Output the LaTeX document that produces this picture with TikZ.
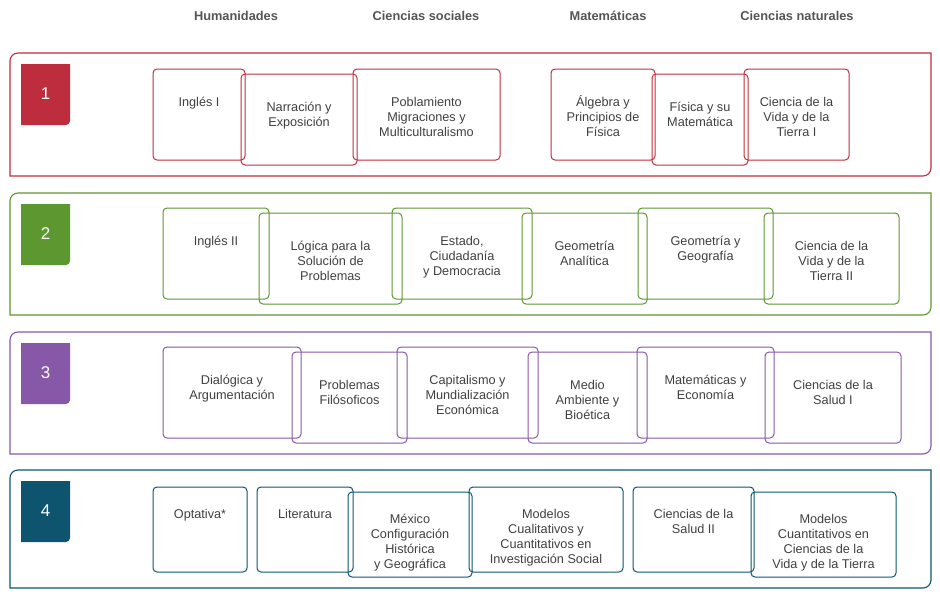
\documentclass[tikz,border=0pt]{standalone}
\usepackage{fontspec}
\setmainfont{Liberation Sans}
\usepackage{xcolor}
\usetikzlibrary{positioning,fit,calc}
\definecolor{semred}{RGB}{190,45,62}
\definecolor{semgreen}{RGB}{93,151,47}
\definecolor{sempurple}{RGB}{135,87,168}
\definecolor{semblue}{RGB}{15,84,111}
\definecolor{txtgray}{RGB}{64,64,64}
\definecolor{headgray}{RGB}{85,85,85}
\tikzset{
    course/.style={draw, rounded corners=4pt, line width=1pt, inner sep=0pt},
    coursetext/.style={align=center, text=txtgray, inner sep=0pt, font=\fontsize{12.7}{15}\selectfont},
    badgenum/.style={text=white, font=\fontsize{17}{20}\selectfont},
    header/.style={text=headgray, anchor=base, font=\bfseries\fontsize{12.8}{15}\selectfont}
}

\begin{document}
\begin{tikzpicture}[x=1pt, y=-1pt]
    \useasboundingbox (0,0) rectangle (940,597);
    % Column headers
    \node[header] (hum) at (236,20) {Humanidades};
    \node[header] (soc) at (426,20) {Ciencias sociales};
    \node[header] (mat) at (608,20) {Matemáticas};
    \node[header] (nat) at (797,20) {Ciencias naturales};
    % Semester frames and badges
    \foreach \n/\clr/\top/\bot in {1/semred/53/176, 2/semgreen/193/315, 3/sempurple/332/454, 4/semblue/470/588} {
        \draw[\clr, line width=1.1pt] (10,\bot) -- (10,\top+8) arc[start angle=180, end angle=270, radius=8]
            -- (931,\top) -- (931,\bot-8) arc[start angle=0, end angle=90, radius=8] -- cycle;
        \fill[\clr] (21,\top+11) -- (70,\top+11) -- (70,\top+68) arc[start angle=0, end angle=90, radius=4]
            -- (21,\top+72) -- cycle;
        \node[badgenum] (badge\n) at (45.5,\top+40.5) {\n};
    }
    % Semester 1
    \foreach \id/\xa/\ya/\xb/\yb/\txt in {
        r1a/153/69/245/160/{Inglés I},
        r1b/241/74/357/165/{Narración y\\Exposición},
        r1c/353/69/500/160/{Poblamiento\\Migraciones y\\Multiculturalismo},
        r1d/551/69/655/160/{Álgebra y\\Principios de\\Física},
        r1e/652/74/748/165/{Física y su\\Matemática},
        r1f/744/69/849/160/{Ciencia de la\\Vida y de la\\Tierra I}} {
        \node[course, draw=semred, fit={(\xa,\ya) (\xb,\yb)}] (\id) {};
        \node[coursetext, below=27pt of \id.north] (\id-t) {\strut\txt};
    }
    % Semester 2
    \foreach \id/\xa/\ya/\xb/\yb/\txt in {
        r2a/163/208/269/299/{Inglés II},
        r2b/259/213/402/304/{Lógica para la\\Solución de\\Problemas},
        r2c/392/208/532/299/{Estado,\\Ciudadanía\\y Democracia},
        r2d/522/213/647/304/{Geometría\\Analítica},
        r2e/638/208/773/299/{Geometría y\\Geografía},
        r2f/764/213/899/304/{Ciencia de la\\Vida y de la\\Tierra II}} {
        \node[course, draw=semgreen, fit={(\xa,\ya) (\xb,\yb)}] (\id) {};
        \node[coursetext, below=27pt of \id.north] (\id-t) {\strut\txt};
    }
    % Semester 3
    \foreach \id/\xa/\ya/\xb/\yb/\txt in {
        r3a/163/347/301/438/{Dialógica y\\Argumentación},
        r3b/292/352/407/443/{Problemas\\Filósoficos},
        r3c/397/347/538/438/{Capitalismo y\\Mundialización\\Económica},
        r3d/528/352/647/443/{Medio\\Ambiente y\\Bioética},
        r3e/637/347/774/438/{Matemáticas y\\Economía},
        r3f/765/352/901/443/{Ciencias de la\\Salud I}} {
        \node[course, draw=sempurple, fit={(\xa,\ya) (\xb,\yb)}] (\id) {};
        \node[coursetext, below=27pt of \id.north] (\id-t) {\strut\txt};
    }
    % Semester 4
    \foreach \id/\xa/\ya/\xb/\yb/\txt in {
        r4a/153/487/247/572/{Optativa*},
        r4b/257/487/353/572/{Literatura},
        r4c/348/492/472/577/{México\\Configuración\\Histórica\\y Geográfica},
        r4d/469/487/623/572/{Modelos\\Cualitativos y\\Cuantitativos en\\Investigación Social},
        r4e/633/487/754/572/{Ciencias de la\\Salud II},
        r4f/751/492/896/577/{Modelos\\Cuantitativos en\\Ciencias de la\\Vida y de la Tierra}} {
        \node[course, draw=semblue, fit={(\xa,\ya) (\xb,\yb)}] (\id) {};
        \node[coursetext, below=21pt of \id.north] (\id-t) {\strut\txt};
    }
\end{tikzpicture}
\end{document}
